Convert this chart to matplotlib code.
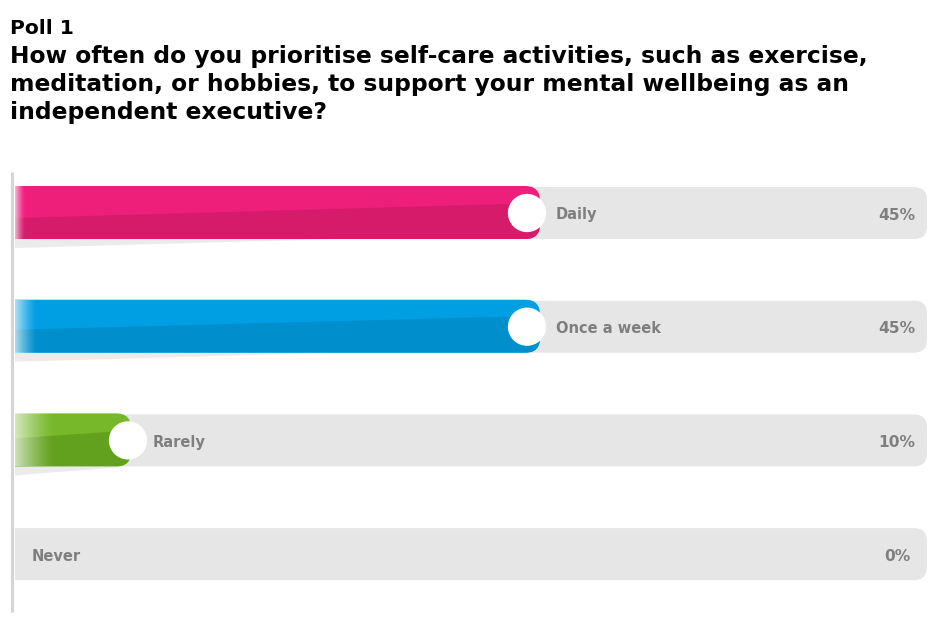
import numpy as np
import matplotlib.pyplot as plt
from matplotlib.patches import FancyBboxPatch, Polygon, Rectangle

# poll data
options = ["Daily", "Once a week", "Rarely", "Never"]
shares = [45, 45, 10, 0]
share_labels = ["45%", "45%", "10%", "0%"]

poll_name = "Poll 1"
question = ["How often do you prioritise self-care activities, such as exercise,",
            "meditation, or hobbies, to support your mental wellbeing as an",
            "independent executive?"]

# styling
top_cols = ["#ee1f7b", "#009fe3", "#76b82a", "#999999"]
bot_cols = ["#d71b6b", "#008fcd", "#62a11d", "#999999"]
slant = [(31, 16), (29, 15), (24, 16), (0, 0)]
fade_w = [10, 22, 40, 0]
end_off = [13, 13, 3, 0]
lab_off = [29, 29, 25, 0]
track_col = "#e6e6e6"
text_col = "#7f7f7f"

W, H = 937, 625
PX = 11.4   # pixels per percentage point
X0 = 14     # pixel position of 0%


def px(v):
    return (v - X0) / PX


fig = plt.figure(figsize=(W / 100, H / 100), dpi=100)
ax = fig.add_axes([0, 0, 1, 1])
ax.set_xlim(px(0), px(W))
ax.set_ylim(H, 0)
ax.axis('off')

# clip everything left of the track start
clip = Rectangle((px(15), 0), px(W) - px(15), H, transform=ax.transData)

row_h = 52
for i, (opt, val) in enumerate(zip(options, shares)):
    top = 187 + 113.7 * i
    yc = top + row_h / 2

    track = FancyBboxPatch((px(-20), top), px(927) - px(-20), row_h,
                           boxstyle="round,pad=0,rounding_size=1.15",
                           mutation_aspect=PX, fc=track_col, ec='none', zorder=1)
    ax.add_patch(track)
    track.set_clip_path(clip)

    if val > 0:
        end = val + end_off[i] / PX
        bar = FancyBboxPatch((px(-20), top - 1), end - px(-20), row_h + 1,
                             boxstyle="round,pad=0,rounding_size=1.3",
                             mutation_aspect=PX, fc=top_cols[i], ec='none', zorder=2)
        ax.add_patch(bar)
        bar.set_clip_path(clip)

        d0, d1 = slant[i]
        low = Polygon([(px(15), top + d0), (end, top + d1), (end, top + row_h),
                       (px(15), top + row_h)], closed=True,
                      fc=bot_cols[i], ec='none', zorder=3)
        ax.add_patch(low)
        low.set_clip_path(bar)

        # shadow under the bar
        L = min(end - px(15), 320 / PX)
        ax.add_patch(Polygon([(px(15), top + row_h), (px(15), top + row_h + 9),
                              (px(15) + L, top + row_h)], closed=True,
                             fc="#ebebeb", ec='none', zorder=1))

        # soft fade at the left edge
        grad = np.ones((1, 64, 4))
        grad[0, :, 3] = np.linspace(0.75, 0, 64) ** 1.3
        ax.imshow(grad, extent=(px(15), px(15 + fade_w[i]), top + row_h, top - 1),
                  aspect='auto', zorder=4, interpolation='bilinear')

        ax.scatter([val], [yc], s=760, color='white', edgecolors='none', zorder=5)
        lab_x = val + lab_off[i] / PX
    else:
        lab_x = px(32)

    ax.text(lab_x, yc + 2, opt, ha='left', va='center', fontsize=10.5,
            fontweight='bold', color=text_col, zorder=6)
    ax.text(px(897), yc + 2, share_labels[i], ha='center', va='center',
            fontsize=11.2, fontweight='bold', color=text_col, zorder=6)

# vertical axis line
ax.plot([px(12), px(12)], [172, 612], color="#d9d4d4", lw=2.2,
        solid_capstyle='butt', zorder=7)

ax.set_xlim(px(0), px(W))
ax.set_ylim(H, 0)

fig.text(10 / W, 1 - 28 / H, poll_name, ha='left', va='center',
         fontsize=14.6, fontweight='bold', color='black')
for k, line in enumerate(question):
    fig.text(10 / W, 1 - (57 + 28 * k) / H, line, ha='left', va='center',
             fontsize=16.8, fontweight='bold', color='black')

fig.savefig("out.png", dpi=100, facecolor='white')
